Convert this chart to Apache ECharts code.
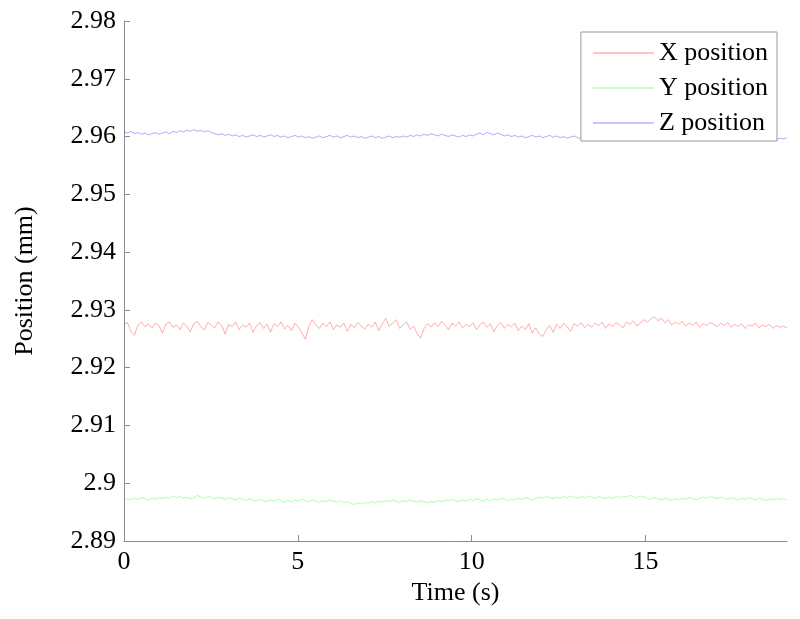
<!DOCTYPE html>
<html>
<head>
<meta charset="utf-8">
<script src="https://cdn.jsdelivr.net/npm/echarts@6/dist/echarts.min.js"></script>
<style>
  html, body { margin: 0; padding: 0; background: #fff; }
  #main { width: 800px; height: 619px; }
</style>
</head>
<body>
<div id="main"></div>
<script>
// sampling: 191 samples over 0 .. 19.07 s
var tEnd = 19.07;
var nSamples = 191;
var xTicks = [0, 5, 10, 15];
var seriesNames = ["X position", "Y position", "Z position"];

var xPos = [
  2.9275,2.9278,2.9262,2.9256,2.9274,2.9279,2.9271,2.9276,2.9268,2.9277,
  2.9273,2.9260,2.9275,2.9279,2.9270,2.9274,2.9266,2.9277,2.9272,2.9262,
  2.9276,2.9280,2.9271,2.9265,2.9278,2.9274,2.9269,2.9279,2.9273,2.9258,
  2.9275,2.9271,2.9279,2.9266,2.9274,2.9270,2.9277,2.9261,2.9273,2.9278,
  2.9268,2.9275,2.9262,2.9276,2.9271,2.9279,2.9267,2.9273,2.9264,2.9277,
  2.9270,2.9260,2.9249,2.9272,2.9283,2.9274,2.9268,2.9277,2.9271,2.9279,
  2.9266,2.9274,2.9270,2.9277,2.9263,2.9275,2.9269,2.9278,2.9272,2.9267,
  2.9275,2.9270,2.9279,2.9264,2.9276,2.9285,2.9272,2.9277,2.9283,2.9268,
  2.9274,2.9279,2.9266,2.9272,2.9259,2.9251,2.9268,2.9276,2.9270,2.9278,
  2.9271,2.9280,2.9274,2.9266,2.9277,2.9272,2.9279,2.9269,2.9275,2.9271,
  2.9278,2.9266,2.9274,2.9279,2.9270,2.9276,2.9262,2.9273,2.9278,2.9268,
  2.9275,2.9271,2.9277,2.9264,2.9272,2.9266,2.9276,2.9260,2.9269,2.9258,
  2.9254,2.9266,2.9273,2.9261,2.9275,2.9268,2.9277,2.9271,2.9263,2.9276,
  2.9272,2.9278,2.9269,2.9275,2.9270,2.9277,2.9273,2.9279,2.9268,2.9276,
  2.9271,2.9278,2.9274,2.9269,2.9279,2.9275,2.9281,2.9272,2.9278,2.9283,
  2.9279,2.9285,2.9288,2.9281,2.9286,2.9278,2.9283,2.9274,2.9279,2.9275,
  2.9280,2.9272,2.9277,2.9274,2.9279,2.9270,2.9276,2.9273,2.9278,2.9275,
  2.9271,2.9277,2.9273,2.9278,2.9270,2.9275,2.9271,2.9276,2.9268,2.9274,
  2.9272,2.9277,2.9269,2.9274,2.9271,2.9275,2.9268,2.9273,2.9270,2.9272,
  2.9269
];

var yPos = [
  2.8970,2.8973,2.8971,2.8974,2.8972,2.8975,2.8973,2.8971,2.8974,2.8972,
  2.8975,2.8973,2.8976,2.8974,2.8978,2.8975,2.8977,2.8974,2.8976,2.8973,
  2.8975,2.8979,2.8976,2.8974,2.8977,2.8975,2.8973,2.8976,2.8974,2.8972,
  2.8975,2.8973,2.8971,2.8974,2.8972,2.8970,2.8973,2.8971,2.8969,2.8972,
  2.8970,2.8968,2.8971,2.8969,2.8972,2.8970,2.8967,2.8970,2.8968,2.8971,
  2.8969,2.8972,2.8970,2.8968,2.8971,2.8969,2.8967,2.8970,2.8968,2.8971,
  2.8969,2.8967,2.8970,2.8966,2.8968,2.8965,2.8963,2.8966,2.8964,2.8967,
  2.8965,2.8968,2.8966,2.8969,2.8967,2.8970,2.8968,2.8971,2.8969,2.8967,
  2.8970,2.8968,2.8971,2.8969,2.8967,2.8970,2.8968,2.8966,2.8969,2.8967,
  2.8970,2.8968,2.8971,2.8969,2.8972,2.8970,2.8968,2.8971,2.8969,2.8972,
  2.8970,2.8973,2.8971,2.8969,2.8972,2.8970,2.8973,2.8971,2.8974,2.8972,
  2.8970,2.8973,2.8971,2.8974,2.8972,2.8975,2.8973,2.8971,2.8974,2.8976,
  2.8974,2.8977,2.8975,2.8973,2.8976,2.8974,2.8977,2.8975,2.8978,2.8976,
  2.8974,2.8977,2.8975,2.8978,2.8976,2.8974,2.8977,2.8975,2.8973,2.8976,
  2.8974,2.8977,2.8975,2.8978,2.8976,2.8979,2.8977,2.8975,2.8978,2.8976,
  2.8974,2.8972,2.8975,2.8973,2.8971,2.8974,2.8972,2.8970,2.8973,2.8971,
  2.8974,2.8972,2.8975,2.8973,2.8971,2.8974,2.8976,2.8974,2.8977,2.8975,
  2.8973,2.8976,2.8974,2.8972,2.8975,2.8973,2.8971,2.8974,2.8972,2.8975,
  2.8973,2.8971,2.8974,2.8972,2.8970,2.8973,2.8971,2.8974,2.8972,2.8973,
  2.8971
];

var zPos = [
  2.9608,2.9606,2.9609,2.9605,2.9607,2.9604,2.9606,2.9603,2.9605,2.9607,
  2.9604,2.9606,2.9608,2.9605,2.9609,2.9607,2.9610,2.9608,2.9611,2.9609,
  2.9612,2.9609,2.9611,2.9608,2.9610,2.9607,2.9605,2.9603,2.9605,2.9602,
  2.9604,2.9601,2.9603,2.9600,2.9602,2.9599,2.9601,2.9603,2.9600,2.9602,
  2.9599,2.9601,2.9603,2.9600,2.9602,2.9599,2.9601,2.9598,2.9600,2.9602,
  2.9599,2.9601,2.9598,2.9600,2.9597,2.9599,2.9601,2.9598,2.9600,2.9602,
  2.9599,2.9601,2.9598,2.9600,2.9602,2.9599,2.9601,2.9598,2.9600,2.9597,
  2.9599,2.9601,2.9598,2.9600,2.9597,2.9599,2.9601,2.9598,2.9600,2.9599,
  2.9601,2.9599,2.9602,2.9600,2.9603,2.9601,2.9604,2.9602,2.9605,2.9603,
  2.9601,2.9604,2.9602,2.9600,2.9603,2.9601,2.9599,2.9602,2.9600,2.9603,
  2.9601,2.9604,2.9606,2.9603,2.9607,2.9605,2.9603,2.9606,2.9604,2.9601,
  2.9603,2.9600,2.9602,2.9599,2.9601,2.9598,2.9600,2.9602,2.9599,2.9601,
  2.9598,2.9600,2.9602,2.9599,2.9601,2.9598,2.9600,2.9597,2.9599,2.9601,
  2.9598,2.9596,2.9598,2.9600,2.9597,2.9599,2.9596,2.9598,2.9600,2.9597,
  2.9599,2.9597,2.9599,2.9596,2.9598,2.9600,2.9597,2.9599,2.9601,2.9598,
  2.9600,2.9597,2.9599,2.9601,2.9598,2.9600,2.9597,2.9599,2.9596,2.9598,
  2.9595,2.9597,2.9599,2.9596,2.9598,2.9595,2.9597,2.9599,2.9596,2.9598,
  2.9596,2.9598,2.9600,2.9597,2.9599,2.9596,2.9598,2.9595,2.9597,2.9599,
  2.9596,2.9598,2.9595,2.9597,2.9599,2.9596,2.9598,2.9595,2.9597,2.9596,
  2.9598
];

var times = [];
for (var i = 0; i < nSamples; i++) times.push(i * tEnd / (nSamples - 1));

function pairs(vals) {
  return vals.map(function (v, i) { return [times[i], v]; });
}

var font = "Liberation Serif";
var axisGray = "#8c8c8c";

var myChart = echarts.init(document.getElementById("main"));
var option = {
  animation: false,
  textStyle: { fontFamily: font },
  grid: { left: 124, right: 13, top: 21, bottom: 78 },
  legend: {
    data: seriesNames,
    orient: "vertical",
    right: 23,
    top: 32,
    icon: "rect",
    itemWidth: 61,
    itemHeight: 1,
    itemGap: 5,
    padding: [6, 9, 3, 12],
    borderColor: "#999",
    borderWidth: 1,
    backgroundColor: "#fff",
    itemStyle: { opacity: 0.45 },
    textStyle: { fontFamily: font, fontSize: 26, color: "#000", lineHeight: 30 }
  },
  xAxis: {
    type: "value",
    min: 0,
    max: tEnd,
    interval: 5,
    name: "Time (s)",
    nameLocation: "middle",
    nameGap: 37,
    nameTextStyle: { fontFamily: font, fontSize: 26, color: "#000" },
    axisLine: { lineStyle: { color: axisGray } },
    axisTick: { inside: true, length: 6, customValues: xTicks, lineStyle: { color: axisGray } },
    axisLabel: { customValues: xTicks, fontFamily: font, fontSize: 26, color: "#000", margin: 8 },
    splitLine: { show: false }
  },
  yAxis: {
    type: "value",
    min: 2.89,
    max: 2.98,
    interval: 0.01,
    name: "Position (mm)",
    nameLocation: "middle",
    nameGap: 86,
    nameTextStyle: { fontFamily: font, fontSize: 26, color: "#000" },
    axisLine: { show: true, lineStyle: { color: axisGray } },
    axisTick: { show: true, inside: true, length: 6, lineStyle: { color: axisGray } },
    axisLabel: { fontFamily: font, fontSize: 26, color: "#000", margin: 8 },
    splitLine: { show: false }
  },
  series: [
    { name: seriesNames[0], type: "line", data: pairs(xPos), showSymbol: false, color: "#ff0000", lineStyle: { width: 0.6, color: "#ff0000", opacity: 0.55 } },
    { name: seriesNames[1], type: "line", data: pairs(yPos), showSymbol: false, color: "#00ff00", lineStyle: { width: 0.6, color: "#00ff00", opacity: 0.55 } },
    { name: seriesNames[2], type: "line", data: pairs(zPos), showSymbol: false, color: "#0000ff", lineStyle: { width: 0.6, color: "#0000ff", opacity: 0.55 } }
  ]
};
myChart.setOption(option);
</script>
</body>
</html>
